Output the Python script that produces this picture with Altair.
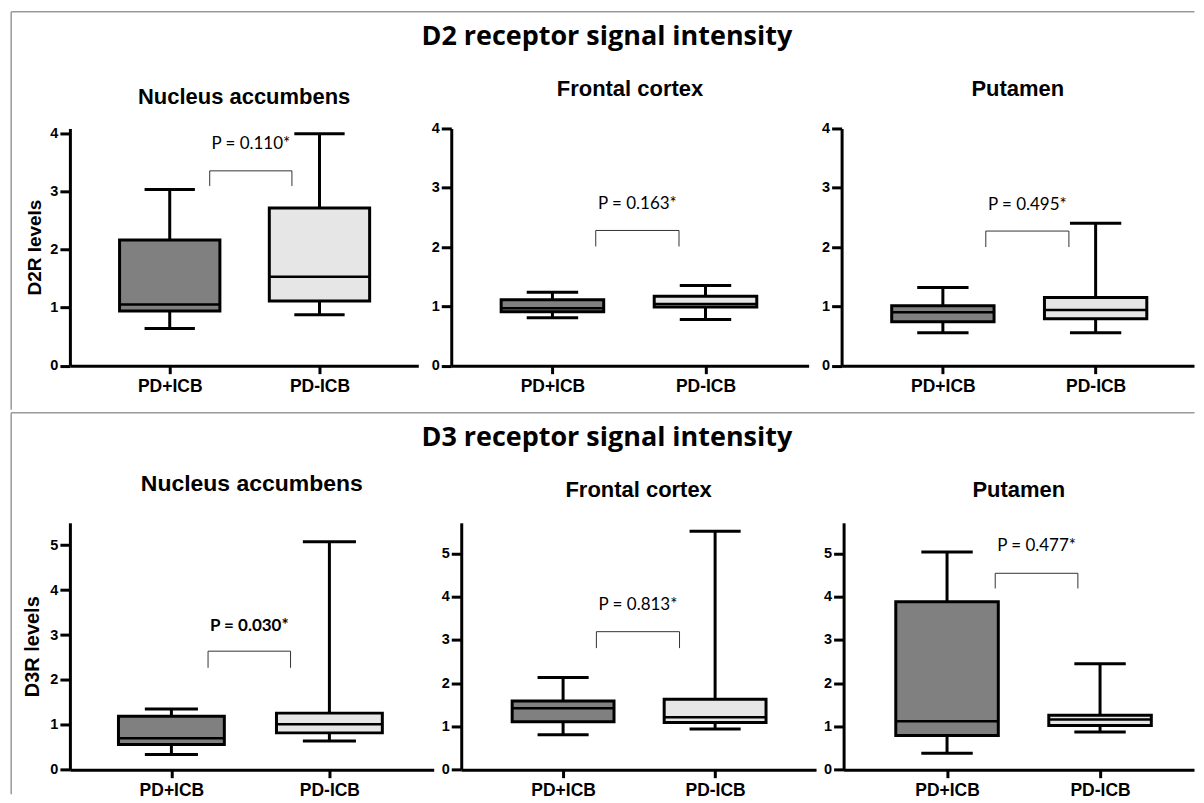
import altair as alt
import pandas as pd

groups = ["PD+ICB", "PD-ICB"]
regions = ["Nucleus accumbens", "Frontal cortex", "Putamen"]
group_colors = ["#808080", "#e6e6e6"]

d2_title = "D2 receptor signal intensity"
d3_title = "D3 receptor signal intensity"
d2_ytitle = "D2R levels"
d3_ytitle = "D3R levels"

# five-number summaries, one pair per region: [PD+ICB, PD-ICB]
d2_min = [[0.64, 0.875], [0.81, 0.78], [0.555, 0.555]]
d2_q1 = [[0.94, 1.11], [0.91, 0.99], [0.74, 0.79]]
d2_median = [[1.05, 1.53], [0.97, 1.04], [0.90, 0.94]]
d2_q3 = [[2.16, 2.71], [1.11, 1.17], [1.01, 1.15]]
d2_max = [[3.03, 3.99], [1.24, 1.35], [1.32, 2.40]]

d3_min = [[0.34, 0.64], [0.81, 0.94], [0.38, 0.87]]
d3_q1 = [[0.56, 0.82], [1.11, 1.09], [0.79, 1.02]]
d3_median = [[0.70, 1.01], [1.42, 1.21], [1.12, 1.16]]
d3_q3 = [[1.19, 1.26], [1.59, 1.63], [3.88, 1.26]]
d3_max = [[1.35, 5.08], [2.13, 5.51], [5.03, 2.45]]

# p-value annotations
d2_p_text = ["P = 0.110*", "P = 0.163*", "P = 0.495*"]
d2_p_bold = [False, False, False]
d2_p_y = [3.72, 2.64, 2.63]
d2_bracket_top = [3.35, 2.28, 2.27]
d2_bracket_leg = [3.09, 2.01, 2.00]
d2_bracket_x1 = [1.267, 1.283, 1.281]
d2_bracket_x2 = [1.816, 1.827, 1.825]

d3_p_text = ["P = 0.030*", "P = 0.813*", "P = 0.477*"]
d3_p_bold = [True, False, False]
d3_p_y = [3.10, 3.68, 5.05]
d3_bracket_top = [2.64, 3.19, 4.54]
d3_bracket_leg = [2.27, 2.81, 4.19]
d3_bracket_x1 = [1.232, 1.219, 1.315]
d3_bracket_x2 = [1.754, 1.766, 1.855]

d2_yticks = [0, 1, 2, 3, 4]
d3_yticks = [0, 1, 2, 3, 4, 5]

# layout (pixels / domains)
BOX_HALF = 0.335
CAP_HALF = 0.168
TOP_H = 237.6
BOT_H = 247.3
top_widths = [349, 358, 353]
bot_widths = [364.4, 355.4, 351]
top_xdom = [[1 / 3, 2.66], [0.339, 2.674], [0.337, 2.644]]
bot_xdom = [[0.3576, 2.66], [0.33, 2.664], [0.324, 2.614]]
top_ymax = [4.079, 4.0, 4.0]
bot_ymax = [5.5, 5.707, 5.707]
top_title_offsets = [-114.75, 2.8, 2.8]
bot_title_offsets = [-101.65, 4, 4]
bot_title_sizes = [23, 22, 22]
top_title_sizes = [22, 22, 22]

AX_FONT = "Liberation Sans"
BORDER = "#9a9a9a"


def panel(stats, r, p_text, p_bold, p_y, b_top, b_leg, b_x1, b_x2, yticks,
          ytitle, width, height, xdom, ymax, tparams, ytitle_pad, ytitle_size, border):
    box = pd.DataFrame({
        "pos": [1, 2],
        "group": groups,
        "lo": stats[0][r],
        "q1": stats[1][r],
        "med": stats[2][r],
        "q3": stats[3][r],
        "hi": stats[4][r],
    })
    xs = alt.Scale(domain=xdom, nice=False, zero=False)
    ys = alt.Scale(domain=[0, ymax], nice=False)
    xaxis = alt.Axis(
        values=[1, 2],
        labelExpr=f"datum.value == 1 ? '{groups[0]}' : '{groups[1]}'",
        title=None, grid=False,
        domainColor="black", domainWidth=3,
        tickColor="black", tickWidth=3, tickSize=8,
        labelFont=AX_FONT, labelFontSize=17.5, labelFontWeight="bold",
        labelColor="black", labelPadding=4, labelFlush=False,
    )
    yargs = dict(
        values=yticks, format="d", grid=False,
        domainColor="black", domainWidth=3,
        tickColor="black", tickWidth=3, tickSize=10,
        labelFont=AX_FONT, labelFontSize=14.5, labelFontWeight="bold",
        labelColor="black", labelPadding=2, labelFlush=False,
    )
    if ytitle:
        yaxis = alt.Axis(title=ytitle, titleFont=AX_FONT, titleFontSize=ytitle_size,
                         titleFontWeight="bold", titleColor="black",
                         titlePadding=ytitle_pad, **yargs)
    else:
        yaxis = alt.Axis(title=None, **yargs)

    def X(f):
        return alt.X(f"{f}:Q", scale=xs, axis=xaxis)

    def Y(f):
        return alt.Y(f"{f}:Q", scale=ys, axis=yaxis)

    base = alt.Chart(box)
    whisker = base.mark_rule(color="black", strokeWidth=3).encode(
        x=X("pos"), y=Y("lo"), y2="hi:Q")
    caps = base.transform_fold(["lo", "hi"], as_=["end", "val"]).transform_calculate(
        cl=f"datum.pos - {CAP_HALF}", cr=f"datum.pos + {CAP_HALF}"
    ).mark_rule(color="black", strokeWidth=3).encode(x=X("cl"), x2="cr:Q", y=Y("val"))
    boxes = base.transform_calculate(
        bl=f"datum.pos - {BOX_HALF}", br=f"datum.pos + {BOX_HALF}"
    ).mark_rect(stroke="black", strokeWidth=3).encode(
        x=X("bl"), x2="br:Q", y=Y("q1"), y2="q3:Q",
        fill=alt.Fill("group:N", scale=alt.Scale(domain=groups, range=group_colors), legend=None),
    )
    median = base.transform_calculate(
        bl=f"datum.pos - {BOX_HALF}", br=f"datum.pos + {BOX_HALF}"
    ).mark_rule(color="black", strokeWidth=2.5).encode(x=X("bl"), x2="br:Q", y=Y("med"))

    brk = pd.DataFrame({"bx": [b_x1, b_x1, b_x2, b_x2],
                        "by": [b_leg, b_top, b_top, b_leg],
                        "o": [0, 1, 2, 3]})
    bracket = alt.Chart(brk).mark_line(color="#333333", strokeWidth=1).encode(
        x=X("bx"), y=Y("by"), order="o:Q")
    pt = pd.DataFrame({"tx": [(b_x1 + b_x2) / 2], "ty": [p_y], "label": [p_text]})
    ptext = alt.Chart(pt).mark_text(
        font="Lato", fontSize=17, fontWeight="bold" if p_bold else "normal",
        baseline="alphabetic", align="center", color="black",
    ).encode(x=X("tx"), y=Y("ty"), text="label:N")

    layers = [whisker, caps, boxes, median, bracket, ptext]
    if border:
        one = pd.DataFrame({"k": [0]})
        bx, by, bxr, byb = border
        layers.append(alt.Chart(one).mark_rule(color=BORDER, strokeWidth=1.5).encode(
            x=alt.value(bx), x2=alt.value(bxr), y=alt.value(by)))
        layers.append(alt.Chart(one).mark_rule(color=BORDER, strokeWidth=1.5).encode(
            x=alt.value(bx), y=alt.value(by), y2=alt.value(byb)))
    return alt.layer(*layers).properties(width=width, height=height, title=tparams)


def ptitle(text, offset, size):
    return alt.TitleParams(text=text, font=AX_FONT, fontSize=size, fontWeight="bold",
                           color="black", anchor="middle", frame="group",
                           baseline="alphabetic", offset=offset)


d2_stats = [d2_min, d2_q1, d2_median, d2_q3, d2_max]
d3_stats = [d3_min, d3_q1, d3_median, d3_q3, d3_max]

top_panels = []
bot_panels = []
for r in range(3):
    top_panels.append(panel(
        d2_stats, r, d2_p_text[r], d2_p_bold[r], d2_p_y[r], d2_bracket_top[r], d2_bracket_leg[r],
        d2_bracket_x1[r], d2_bracket_x2[r], d2_yticks, d2_ytitle if r == 0 else None,
        top_widths[r], TOP_H, top_xdom[r], top_ymax[r],
        ptitle(regions[r], top_title_offsets[r], top_title_sizes[r]), 5, 19,
        (-58.8, -117, 1126.5, 281.75) if r == 0 else None))
    bot_panels.append(panel(
        d3_stats, r, d3_p_text[r], d3_p_bold[r], d3_p_y[r], d3_bracket_top[r], d3_bracket_leg[r],
        d3_bracket_x1[r], d3_bracket_x2[r], d3_yticks, d3_ytitle if r == 0 else None,
        bot_widths[r], BOT_H, bot_xdom[r], bot_ymax[r],
        ptitle(regions[r], bot_title_offsets[r], bot_title_sizes[r]), 7, 20,
        (-58.8, -110.2, 1126.5, 271.8) if r == 0 else None))


def rtitle(text, offset):
    return alt.TitleParams(text=text, font="Open Sans", fontSize=27, fontWeight="bold",
                           color="black", anchor="middle", baseline="alphabetic",
                           offset=offset, dx=4)


row1 = alt.hconcat(*top_panels, spacing=33, bounds="flush", title=rtitle(d2_title, -61.25))
row2 = alt.hconcat(*bot_panels, spacing=27, bounds="flush", title=rtitle(d3_title, -61.75))

chart = alt.vconcat(row1, row2, spacing=0,
                    padding={"left": 1, "top": 1, "right": 0, "bottom": 0}
                    ).configure_view(stroke="transparent")

chart.save("out.html", embed_options={"renderer": "svg", "actions": False})
